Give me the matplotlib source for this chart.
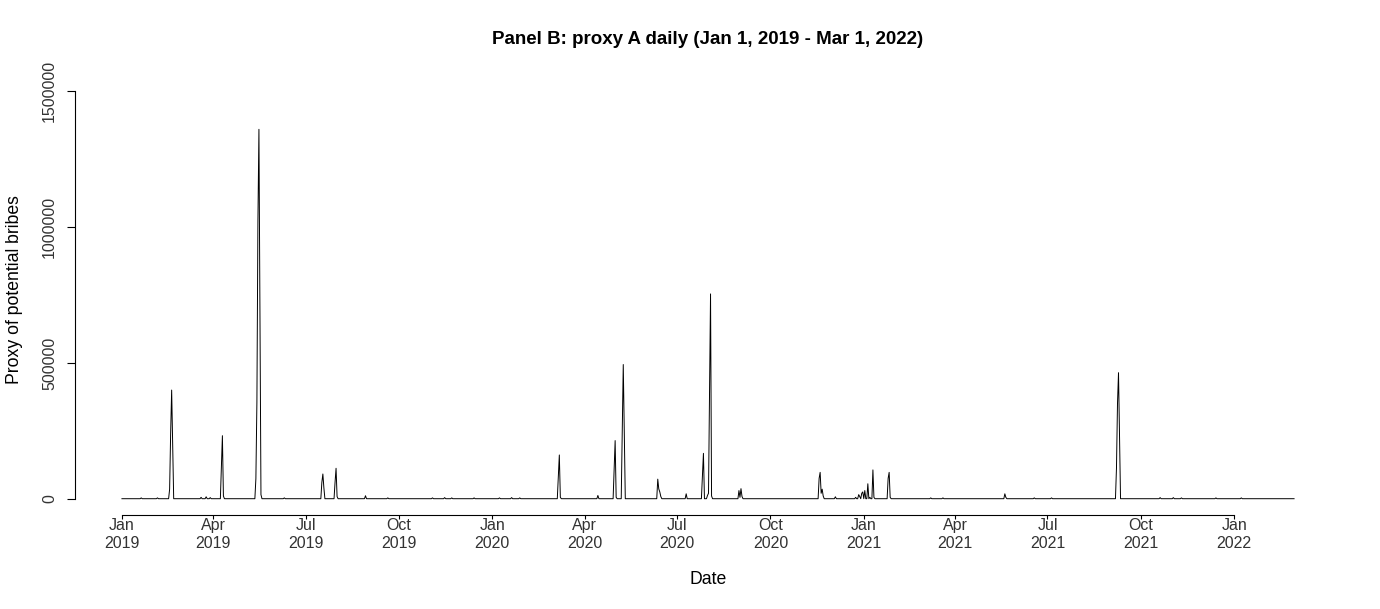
import pandas as pd
import matplotlib
matplotlib.use('Agg')
import matplotlib.pyplot as plt
import matplotlib.dates as mdates

plt.rcParams['font.family'] = ['Liberation Sans', 'DejaVu Sans']

# daily series, Jan 1 2019 - Mar 1 2022; zero except the days listed below
start_date = '2019-01-01'
end_date = '2022-03-01'

spike_dates = [
    '2019-01-20', '2019-02-05',
    '2019-02-17', '2019-02-18', '2019-02-19', '2019-02-20',
    '2019-03-20', '2019-03-25', '2019-03-29',
    '2019-04-09', '2019-04-10', '2019-04-11',
    '2019-05-13', '2019-05-14', '2019-05-15', '2019-05-16', '2019-05-17', '2019-05-18',
    '2019-06-10', '2019-07-17', '2019-07-18', '2019-07-19',
    '2019-07-30', '2019-07-31', '2019-08-01', '2019-08-29',
    '2019-09-20', '2019-11-03', '2019-11-15', '2019-11-22', '2019-12-14',
    '2020-01-08', '2020-01-20', '2020-01-28',
    '2020-03-06', '2020-03-07', '2020-03-08',
    '2020-04-14',
    '2020-04-30', '2020-05-01', '2020-05-02',
    '2020-05-08', '2020-05-09', '2020-05-10',
    '2020-06-12', '2020-06-13', '2020-06-14', '2020-06-15',
    '2020-07-10', '2020-07-26', '2020-07-27',
    '2020-07-31', '2020-08-01', '2020-08-02', '2020-08-03', '2020-08-04',
    '2020-08-31', '2020-09-01', '2020-09-02', '2020-09-03',
    '2020-11-18', '2020-11-19', '2020-11-20', '2020-11-21', '2020-11-22',
    '2020-12-04',
    '2020-12-24', '2020-12-27', '2020-12-28', '2020-12-30', '2020-12-31',
    '2021-01-02', '2021-01-05', '2021-01-07', '2021-01-10', '2021-01-11',
    '2021-01-25', '2021-01-26', '2021-01-27',
    '2021-03-08', '2021-03-20',
    '2021-05-20', '2021-05-21', '2021-06-18', '2021-07-05',
    '2021-09-07', '2021-09-08', '2021-09-09', '2021-09-10',
    '2021-10-20', '2021-11-02', '2021-11-10', '2021-12-14', '2022-01-08',
]
spike_values = [
    3000, 3000,
    35000, 240000, 400000, 205000,
    5000, 7000, 4000,
    115000, 232000, 10000,
    74000, 355000, 1020000, 1360000, 700000, 15000,
    3000, 60000, 91000, 40000,
    60000, 112000, 8000, 11000,
    3000, 3000, 4000, 3000, 3000,
    3000, 4000, 3000,
    79000, 161000, 5000,
    12000,
    105000, 214000, 5000,
    244000, 494000, 244000,
    72000, 36000, 25000, 8000,
    18000, 85000, 167000,
    12000, 20000, 373000, 754000, 10000,
    30000, 5000, 37000, 8000,
    75000, 97000, 20000, 35000, 10000,
    7000,
    5000, 15000, 8000, 20000, 25000,
    30000, 55000, 5000, 106000, 5000,
    75000, 97000, 5000,
    3000, 3000,
    18000, 5000, 3000, 3000,
    113000, 349000, 464000, 228000,
    4000, 4000, 3000, 3000, 3000,
]

y_ticks = [0, 500000, 1000000, 1500000]
x_ticks = pd.date_range('2019-01-01', '2022-01-01', freq='QS')
x_tick_labels = [d.strftime('%b') + '\n' + d.strftime('%Y') for d in x_ticks]

days = pd.date_range(start_date, end_date, freq='D')
series = pd.Series(0.0, index=days)
series[pd.to_datetime(spike_dates)] = spike_values

fig = plt.figure(figsize=(13.8, 6.09), dpi=100)
ax = fig.add_axes([75 / 1380, 1 - 515 / 609, (1341 - 75) / 1380, (515 - 75) / 609])

ax.plot(series.index, series.values, color='black', lw=0.7)

pad_days = pd.Timedelta(days=0.04 * len(days))
ax.set_xlim(days[0] - pad_days, days[-1] + pad_days)
ax.set_ylim(-60000, 1560000)

ax.set_xticks(x_ticks)
ax.set_xticklabels(x_tick_labels, linespacing=1.3)
ax.set_yticks(y_ticks)
ax.set_yticklabels([str(v) for v in y_ticks], rotation=90, va='center')

ax.tick_params(axis='x', length=3, width=0.8, pad=-1, labelsize=11.5, colors='black')
ax.tick_params(axis='y', length=6, width=0.8, pad=7, labelsize=11.5, colors='black')
for lab in ax.get_yticklabels() + ax.get_xticklabels():
    lab.set_color('#333333')

for s in ['top', 'right']:
    ax.spines[s].set_visible(False)
ax.spines['left'].set_bounds(0, 1500000)
ax.spines['bottom'].set_bounds(mdates.date2num(x_ticks[0]), mdates.date2num(x_ticks[-1]))
ax.spines['left'].set_linewidth(0.8)
ax.spines['bottom'].set_linewidth(0.8)

fig.text(708 / 1380, 1 - 40 / 609, 'Panel B: proxy A daily (Jan 1, 2019 - Mar 1, 2022)',
         ha='center', va='center', fontsize=13.5, fontweight='bold')
fig.text(708 / 1380, 1 - 580 / 609, 'Date', ha='center', va='center', fontsize=12.7)
fig.text(15 / 1380, 1 - 290 / 609, 'Proxy of potential bribes', ha='center', va='center',
         rotation=90, fontsize=12.7)

fig.savefig('out.png', dpi=100)
